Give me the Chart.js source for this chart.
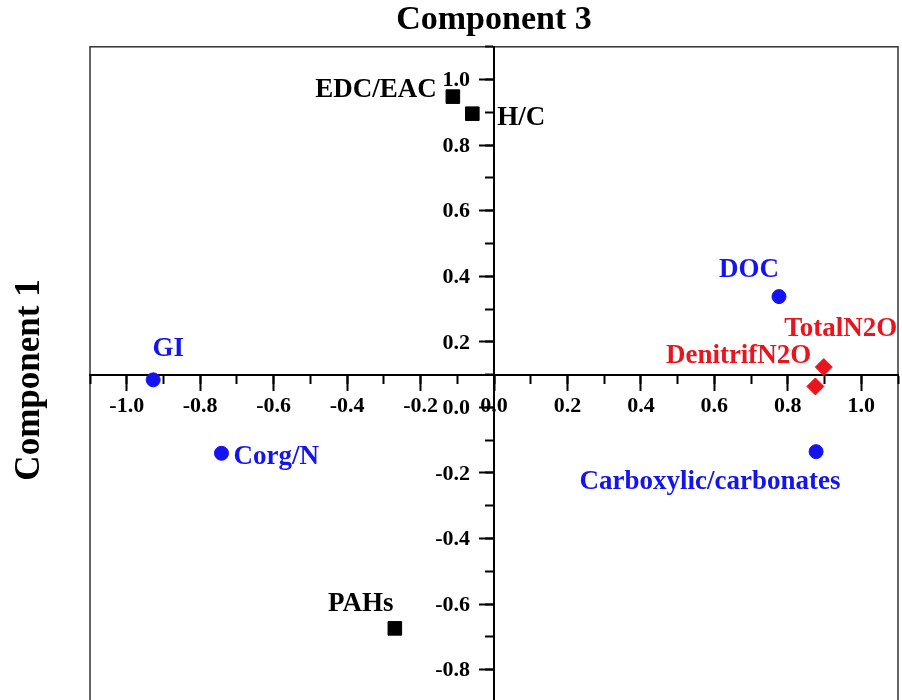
<!DOCTYPE html>
<html>
<head>
<meta charset="utf-8">
<script src="https://cdn.jsdelivr.net/npm/chart.js@4.4.1/dist/chart.umd.min.js"></script>
<style>
  html, body { margin: 0; padding: 0; background: #fff; overflow: hidden; }
  #wrap { position: relative; width: 902px; height: 800px; }
</style>
</head>
<body>
<div id="wrap"><canvas id="loadings"></canvas></div>
<script>
// component loadings, one group per marker
const squareNames = ['EDC/EAC', 'H/C', 'PAHs'];
const squareX = [-0.112, -0.059, -0.27];
const squareY = [0.948, 0.896, -0.674];

const circleNames = ['GI', 'Corg/N', 'DOC', 'Carboxylic/carbonates'];
const circleX = [-0.928, -0.742, 0.776, 0.877];
const circleY = [0.084, -0.14, 0.338, -0.135];

const diamondNames = ['TotalN2O', 'DenitrifN2O'];
const diamondX = [0.898, 0.875];
const diamondY = [0.123, 0.064];

// axis ticks
const majorTicks = [-1.0, -0.8, -0.6, -0.4, -0.2, 0.0, 0.2, 0.4, 0.6, 0.8, 1.0];
const minorTicks = [-1.1, -1.0, -0.9, -0.8, -0.7, -0.6, -0.5, -0.4, -0.3, -0.2, -0.1, 0.0,
  0.1, 0.2, 0.3, 0.4, 0.5, 0.6, 0.7, 0.8, 0.9, 1.0, 1.1];
const axisMin = -1.1;
const axisMax = 1.1;
const xAxisCrossAt = 0.1;   // horizontal axis line sits a little above zero

const FONT = '"Liberation Serif", "Times New Roman", serif';
const BLUE = '#1414f0';
const RED = '#e8141e';
const BLACK = '#000000';

// where each name goes relative to its marker: [dx, dy, align]
const labelPlace = {
  'EDC/EAC': [-16, -7, 'right'],
  'H/C': [25, 4, 'left'],
  'PAHs': [-34, -24, 'center'],
  'GI': [15, -31, 'center'],
  'Corg/N': [12, 4, 'left'],
  'DOC': [-30, -27, 'center'],
  'Carboxylic/carbonates': [-106, 30, 'center'],
  'TotalN2O': [17, -38, 'center'],
  'DenitrifN2O': [-4, -30, 'right']
};

function pts(xs, ys) {
  return xs.map((x, i) => ({ x: x, y: ys[i] }));
}

const pointLabels = {
  id: 'pointLabels',
  afterDatasetsDraw(chart) {
    const ctx = chart.ctx;
    ctx.save();
    ctx.font = 'bold 27px ' + FONT;
    ctx.textBaseline = 'middle';
    chart.data.datasets.forEach((ds, i) => {
      const meta = chart.getDatasetMeta(i);
      ds.names.forEach((name, j) => {
        const el = meta.data[j];
        const p = labelPlace[name];
        ctx.fillStyle = ds.backgroundColor;
        ctx.textAlign = p[2];
        ctx.fillText(name, el.x + p[0], el.y + p[1]);
      });
    });
    ctx.restore();
  }
};

// frame, left title and the axis numbers; drawn first so the axis lines sit on top
const frame = {
  id: 'frame',
  beforeDraw(chart) {
    const { ctx, chartArea: a } = chart;
    const xs = chart.scales.x;
    const ys = chart.scales.y;
    ctx.save();
    ctx.strokeStyle = '#333';
    ctx.lineWidth = 1.5;
    ctx.strokeRect(a.left, a.top, a.right - a.left, a.bottom - a.top);

    const x0 = xs.getPixelForValue(0);
    const y0 = ys.getPixelForValue(xAxisCrossAt);
    ctx.font = 'bold 22px ' + FONT;
    ctx.fillStyle = BLACK;
    ctx.textBaseline = 'middle';
    ctx.textAlign = 'right';
    majorTicks.forEach(v => {
      ctx.fillText(v.toFixed(1), x0 - 24, ys.getPixelForValue(v) + 1);
    });
    ctx.textAlign = 'center';
    majorTicks.forEach(v => {
      ctx.fillText(v.toFixed(1), xs.getPixelForValue(v), y0 + 32);
    });

    ctx.translate(30, 380);
    ctx.rotate(-Math.PI / 2);
    ctx.font = 'bold 35px ' + FONT;
    ctx.fillText('Component 1', 0, 0);
    ctx.restore();
  }
};

function axis(pos, ticksArr, len) {
  return {
    type: 'linear',
    min: axisMin,
    max: axisMax,
    position: pos,
    afterBuildTicks: s => { s.ticks = ticksArr.map(v => ({ value: v })); },
    border: { display: true, color: BLACK, width: 2 },
    grid: { drawOnChartArea: false, drawTicks: true, tickLength: len, tickWidth: 2, tickColor: BLACK },
    ticks: { display: false, padding: 0 }
  };
}

new Chart(document.getElementById('loadings'), {
  type: 'scatter',
  data: {
    datasets: [{
      names: squareNames,
      data: pts(squareX, squareY),
      backgroundColor: BLACK,
      borderColor: BLACK,
      pointStyle: 'rect',
      pointRadius: 9.6
    }, {
      names: circleNames,
      data: pts(circleX, circleY),
      backgroundColor: BLUE,
      borderColor: BLUE,
      pointStyle: 'circle',
      pointRadius: 7
    }, {
      names: diamondNames,
      data: pts(diamondX, diamondY),
      backgroundColor: RED,
      borderColor: RED,
      pointStyle: 'rectRot',
      pointRadius: 8.5
    }]
  },
  options: {
    responsive: true,
    maintainAspectRatio: false,
    animation: false,
    events: [],
    layout: { autoPadding: false, padding: { left: 90, right: 4, top: 0, bottom: 32 } },
    scales: {
      x: axis({ y: xAxisCrossAt }, majorTicks, 15),
      y: axis({ x: 0 }, majorTicks, 14),
      xMinor: axis({ y: xAxisCrossAt }, minorTicks, 8),
      yMinor: Object.assign(axis({ x: 0 }, minorTicks, 8), { axis: 'y' })
    },
    plugins: {
      legend: { display: false },
      tooltip: { enabled: false },
      title: {
        display: true,
        text: 'Component 3',
        fullSize: false,
        color: BLACK,
        font: { family: FONT, size: 34, weight: 'bold' },
        padding: { top: 0, bottom: 6 }
      }
    }
  },
  plugins: [frame, pointLabels]
});
</script>
</body>
</html>
